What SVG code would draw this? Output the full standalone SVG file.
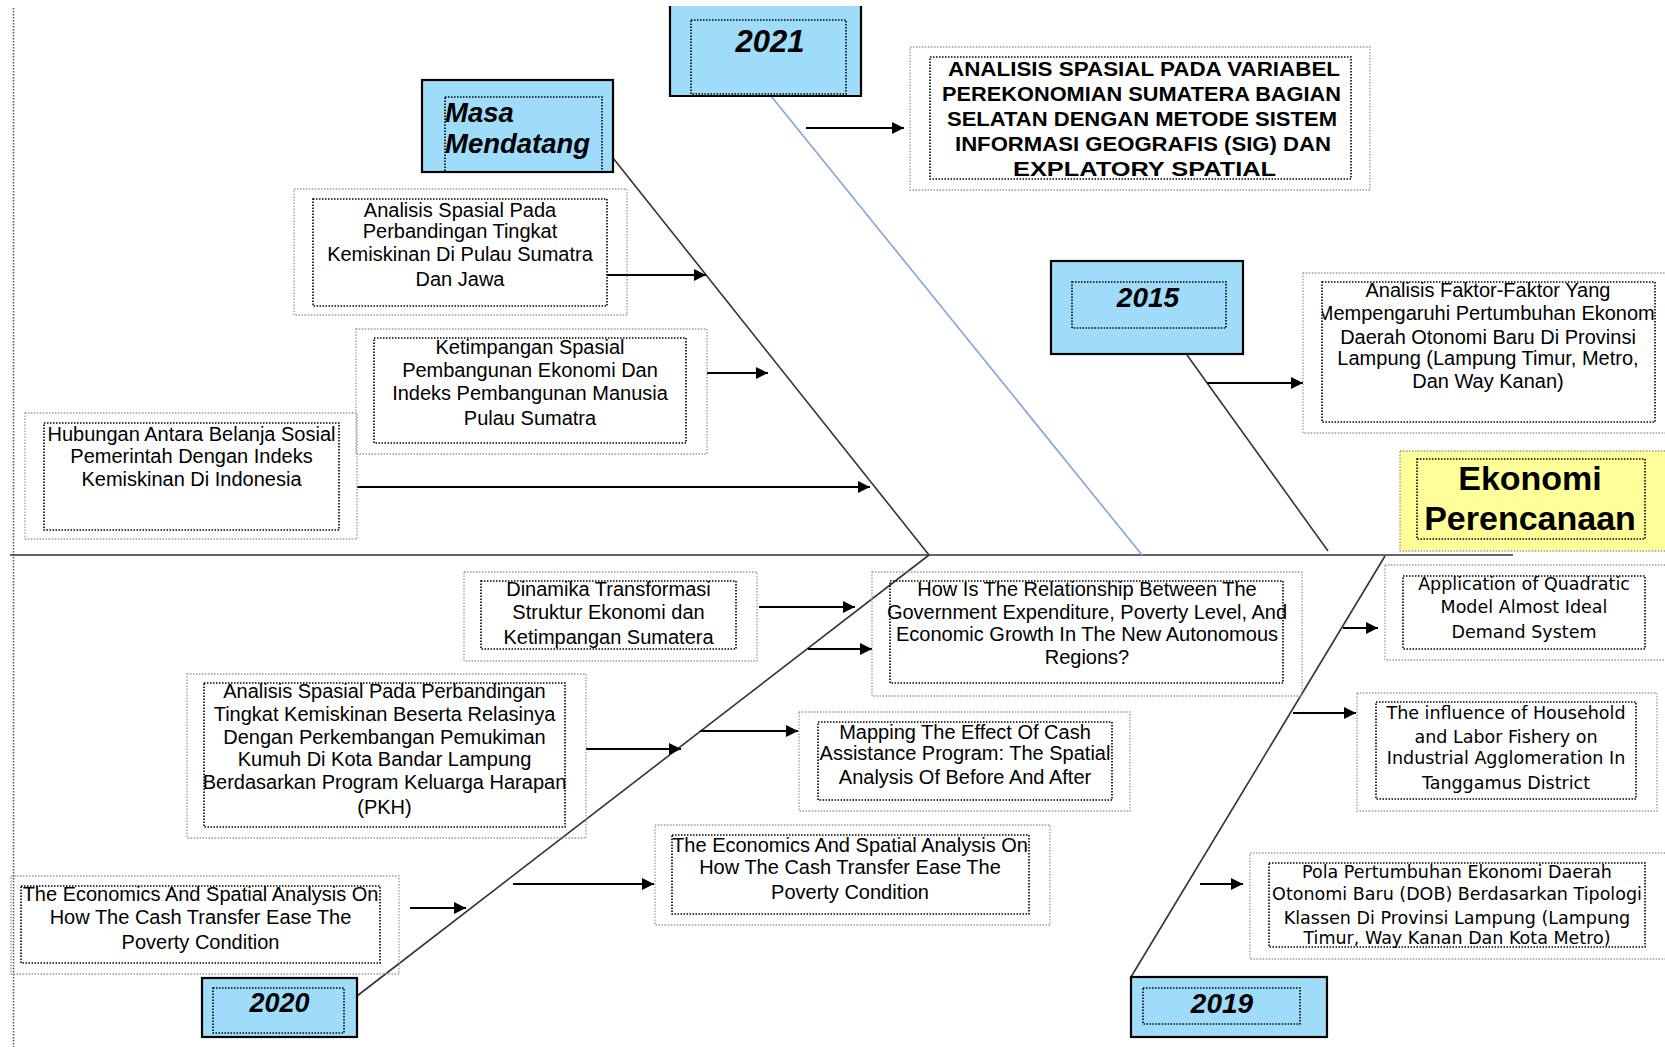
<svg xmlns="http://www.w3.org/2000/svg" width="1665" height="1047" viewBox="0 0 1665 1047">
<defs>
<style>
.o{fill:none;stroke:#9a9a9a;stroke-width:1.3;stroke-dasharray:1.5 1.5}
.i{fill:none;stroke:#000;stroke-width:1.6;stroke-dasharray:1.5 1.5}
.blue{fill:#9fdcf9;stroke:#000;stroke-width:2.2}
.yel{fill:#ffff99;stroke:#9a9a9a;stroke-width:1.3;stroke-dasharray:1.5 1.5}
.t{font-family:"Liberation Sans",Arial,sans-serif;font-size:20px;text-anchor:middle;fill:#000}
.tv{font-family:"DejaVu Sans",Verdana,sans-serif;font-size:17.5px;text-anchor:middle;fill:#000}
.tb{font-family:"Liberation Sans",Arial,sans-serif;font-size:20px;font-weight:bold;fill:#000}
.yr{font-family:"Liberation Sans",Arial,sans-serif;font-weight:bold;font-style:italic;fill:#000}
.big{font-family:"Liberation Sans",Arial,sans-serif;font-weight:bold;font-size:34px;text-anchor:middle;fill:#000}
.arr{stroke:#000;stroke-width:2;fill:none;marker-end:url(#ah)}
.bone{stroke:#333;stroke-width:1.6;fill:none}
</style>
<marker id="ah" viewBox="0 0 10 10" refX="10" refY="5" markerWidth="12" markerHeight="12" markerUnits="userSpaceOnUse" orient="auto">
<path d="M0,0 L10,5 L0,10 z" fill="#000"/>
</marker>
<clipPath id="c10"><rect x="1322" y="282" width="333" height="140"/></clipPath>
</defs>
<rect width="1665" height="1047" fill="#fff"/>

<line x1="13.5" y1="8" x2="13.5" y2="1047" stroke="#555" stroke-width="1.5" stroke-dasharray="1.5 1.5"/>

<g id="connectors">
<line class="bone" x1="10" y1="555" x2="1513" y2="555" stroke-width="2.4"/>
<line x1="771" y1="96" x2="1142" y2="555" stroke="#7fa6da" stroke-width="1.6"/>
<line class="bone" x1="613" y1="158" x2="929" y2="555"/>
<line class="bone" x1="1187" y1="355" x2="1328" y2="551"/>
<line class="bone" x1="929" y1="555" x2="357" y2="996"/>
<line class="bone" x1="1385" y1="556" x2="1131" y2="977"/>
<line class="arr" x1="607" y1="275" x2="706" y2="275"/>
<line class="arr" x1="707" y1="373" x2="768" y2="373"/>
<line class="arr" x1="357" y1="487" x2="870" y2="487"/>
<line class="arr" x1="806" y1="128" x2="904" y2="128"/>
<line class="arr" x1="1207" y1="383" x2="1303" y2="383"/>
<line class="arr" x1="759" y1="607" x2="855" y2="607"/>
<line class="arr" x1="808" y1="649" x2="872" y2="649"/>
<line class="arr" x1="586" y1="749" x2="681" y2="749"/>
<line class="arr" x1="700" y1="731" x2="798" y2="731"/>
<line class="arr" x1="513" y1="884" x2="654" y2="884"/>
<line class="arr" x1="410" y1="908" x2="466" y2="908"/>
<line class="arr" x1="1343" y1="628" x2="1378" y2="628"/>
<line class="arr" x1="1293" y1="713" x2="1356" y2="713"/>
<line class="arr" x1="1200" y1="884" x2="1243" y2="884"/>
</g>

<g id="n2021">
<rect x="670" y="6" width="191" height="90" fill="#9fdcf9"/>
<path d="M670,6 V96 H861 V6" fill="none" stroke="#000" stroke-width="2.2"/>
<rect class="i" x="691" y="20" width="155" height="74"/>
<text class="yr" x="770" y="52" font-size="31" text-anchor="middle">2021</text>
</g>

<g id="nMasa">
<rect class="blue" x="422" y="80" width="191" height="92"/>
<rect class="i" x="445" y="97" width="157" height="75"/>
<text class="yr" x="445" y="122" font-size="27.5">Masa</text>
<text class="yr" x="445" y="153" font-size="27.5">Mendatang</text>
</g>

<g id="n2015">
<rect class="blue" x="1051" y="261" width="192" height="93"/>
<rect class="i" x="1072" y="282" width="154" height="46"/>
<text class="yr" x="1148" y="307" font-size="28" text-anchor="middle">2015</text>
</g>

<g id="n2020">
<rect class="blue" x="202" y="978" width="155" height="59"/>
<rect class="i" x="213" y="988" width="131" height="45"/>
<text class="yr" x="279.5" y="1012" font-size="27" text-anchor="middle">2020</text>
</g>

<g id="n2019">
<rect class="blue" x="1131" y="977" width="196" height="60"/>
<rect class="i" x="1143" y="988" width="157" height="36"/>
<text class="yr" x="1222" y="1013" font-size="28" text-anchor="middle">2019</text>
</g>

<g id="nEkonomi">
<rect class="yel" x="1400" y="451" width="270" height="100"/>
<rect class="i" x="1417" y="459" width="228" height="80"/>
<text class="big" x="1530" y="490">Ekonomi</text>
<text class="big" x="1530" y="530">Perencanaan</text>
</g>

<g id="nAnalisisVariabel">
<rect class="o" x="910" y="47" width="460" height="143"/>
<rect class="i" x="930" y="57" width="421" height="122"/>
<text class="tb" x="948" y="76" textLength="392" lengthAdjust="spacingAndGlyphs">ANALISIS SPASIAL PADA VARIABEL</text>
<text class="tb" x="942" y="101" textLength="399" lengthAdjust="spacingAndGlyphs">PEREKONOMIAN SUMATERA BAGIAN</text>
<text class="tb" x="947" y="126" textLength="390" lengthAdjust="spacingAndGlyphs">SELATAN DENGAN METODE SISTEM</text>
<text class="tb" x="955" y="151" textLength="376" lengthAdjust="spacingAndGlyphs">INFORMASI GEOGRAFIS (SIG) DAN</text>
<text class="tb" x="1013" y="176" textLength="263" lengthAdjust="spacingAndGlyphs">EXPLATORY SPATIAL</text>
</g>

<g id="nPulauJawa">
<rect class="o" x="294" y="189" width="333" height="126"/>
<rect class="i" x="313" y="199" width="294" height="107"/>
<text class="t" x="460" y="217">Analisis Spasial Pada</text>
<text class="t" x="460" y="238">Perbandingan Tingkat</text>
<text class="t" x="460" y="261">Kemiskinan Di Pulau Sumatra</text>
<text class="t" x="460" y="286">Dan Jawa</text>
</g>

<g id="nKetimpangan">
<rect class="o" x="356" y="329" width="351" height="125"/>
<rect class="i" x="374" y="338" width="312" height="105"/>
<text class="t" x="530" y="354">Ketimpangan Spasial</text>
<text class="t" x="530" y="377">Pembangunan Ekonomi  Dan</text>
<text class="t" x="530" y="400">Indeks Pembangunan Manusia</text>
<text class="t" x="530" y="425">Pulau Sumatra</text>
</g>

<g id="nHubungan">
<rect class="o" x="25" y="413" width="332" height="126"/>
<rect class="i" x="44" y="423" width="295" height="107"/>
<text class="t" x="191.5" y="441">Hubungan Antara Belanja Sosial</text>
<text class="t" x="191.5" y="463">Pemerintah Dengan Indeks</text>
<text class="t" x="191.5" y="486">Kemiskinan Di Indonesia</text>
</g>

<g id="nFaktor">
<rect class="o" x="1303" y="273" width="370" height="160"/>
<rect class="i" x="1322" y="282" width="333" height="140"/>
<g clip-path="url(#c10)">
<text class="t" x="1488" y="297">Analisis Faktor-Faktor Yang</text>
<text class="t" x="1488" y="320">Mempengaruhi Pertumbuhan Ekonomi</text>
<text class="t" x="1488" y="344">Daerah Otonomi Baru Di Provinsi</text>
<text class="t" x="1488" y="365">Lampung (Lampung Timur, Metro,</text>
<text class="t" x="1488" y="388">Dan Way Kanan)</text>
</g>
</g>

<g id="nDinamika">
<rect class="o" x="464" y="572" width="293" height="89"/>
<rect class="i" x="481" y="581" width="255" height="68"/>
<text class="t" x="608.5" y="596">Dinamika Transformasi</text>
<text class="t" x="608.5" y="619">Struktur Ekonomi dan</text>
<text class="t" x="608.5" y="644">Ketimpangan Sumatera</text>
</g>

<g id="nHowIs">
<rect class="o" x="872" y="572" width="430" height="124"/>
<rect class="i" x="890" y="581" width="393" height="102"/>
<text class="t" x="1087" y="596">How Is The Relationship Between The</text>
<text class="t" x="1087" y="619">Government Expenditure, Poverty Level, And</text>
<text class="t" x="1087" y="641">Economic Growth In The New Autonomous</text>
<text class="t" x="1087" y="664">Regions?</text>
</g>

<g id="nPKH">
<rect class="o" x="187" y="674" width="399" height="164"/>
<rect class="i" x="204" y="683" width="361" height="144"/>
<text class="t" x="384.5" y="698">Analisis Spasial Pada Perbandingan</text>
<text class="t" x="384.5" y="721">Tingkat Kemiskinan Beserta Relasinya</text>
<text class="t" x="384.5" y="744">Dengan Perkembangan Pemukiman</text>
<text class="t" x="384.5" y="766">Kumuh Di Kota Bandar Lampung</text>
<text class="t" x="384.5" y="789">Berdasarkan Program Keluarga Harapan</text>
<text class="t" x="384.5" y="814">(PKH)</text>
</g>

<g id="nMapping">
<rect class="o" x="799" y="712" width="331" height="99"/>
<rect class="i" x="818" y="722" width="294" height="78"/>
<text class="t" x="965" y="739">Mapping The Effect Of Cash</text>
<text class="t" x="965" y="760">Assistance Program: The Spatial</text>
<text class="t" x="965" y="784">Analysis Of Before And After</text>
</g>

<g id="nEconomicsRight">
<rect class="o" x="655" y="825" width="395" height="100"/>
<rect class="i" x="672" y="835" width="357" height="79"/>
<text class="t" x="850" y="852">The Economics And Spatial Analysis On</text>
<text class="t" x="850" y="874">How The Cash Transfer Ease The</text>
<text class="t" x="850" y="899">Poverty Condition</text>
</g>

<g id="nEconomicsLeft">
<rect class="o" x="11" y="876" width="388" height="98"/>
<rect class="i" x="21" y="886" width="359" height="77"/>
<text class="t" x="200.5" y="901">The Economics And Spatial Analysis On</text>
<text class="t" x="200.5" y="924">How The Cash Transfer Ease The</text>
<text class="t" x="200.5" y="949">Poverty Condition</text>
</g>

<g id="nQuadratic">
<rect class="o" x="1385" y="565" width="290" height="95"/>
<rect class="i" x="1403" y="576" width="242" height="73"/>
<text class="tv" x="1524" y="590">Application of Quadratic</text>
<text class="tv" x="1524" y="613">Model Almost Ideal</text>
<text class="tv" x="1524" y="638">Demand System</text>
</g>

<g id="nHousehold">
<rect class="o" x="1357" y="693" width="300" height="118"/>
<rect class="i" x="1376" y="702" width="260" height="97"/>
<text class="tv" x="1506" y="719">The influence of Household</text>
<text class="tv" x="1506" y="743">and Labor Fishery on</text>
<text class="tv" x="1506" y="764">Industrial Agglomeration In</text>
<text class="tv" x="1506" y="789">Tanggamus District</text>
</g>

<g id="nPola">
<rect class="o" x="1250" y="853" width="425" height="106"/>
<rect class="i" x="1269" y="863" width="376" height="84"/>
<text class="tv" x="1457" y="878">Pola Pertumbuhan Ekonomi Daerah</text>
<text class="tv" x="1457" y="900">Otonomi Baru (DOB) Berdasarkan Tipologi</text>
<text class="tv" x="1457" y="924">Klassen Di Provinsi Lampung (Lampung</text>
<text class="tv" x="1457" y="944">Timur, Way Kanan Dan Kota Metro)</text>
</g>
</svg>
